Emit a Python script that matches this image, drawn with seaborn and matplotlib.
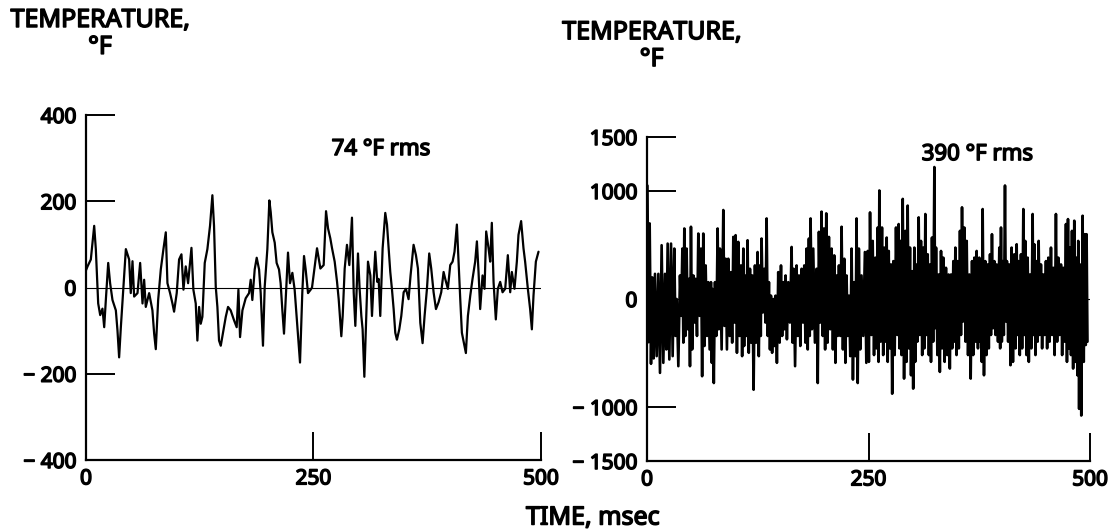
import numpy as np
import pandas as pd
import matplotlib
matplotlib.use("Agg")
import matplotlib.pyplot as plt
import matplotlib.patheffects as pe
import seaborn as sns

# left trace: 74 F rms (msec, deg F)
time_left = [0, 1.7, 5.3, 9.0, 10.8, 11.9, 13.4, 15.6, 18.1, 20.0,
             21.8, 24.4, 26.5, 29.1, 32.8, 34.6, 36.4, 38.3, 41.2, 43.8,
             47.4, 49.2, 51.1, 52.9, 56.6, 59.5, 62.1, 63.9, 65.7, 69.4,
             73.0, 74.9, 76.7, 79.3, 82.2, 85.1, 87.7, 89.5, 92.4, 95.0,
             96.8, 99.7, 102.3, 104.9, 107.1, 109.6, 112.2, 115.9, 118.0, 120.6,
             122.4, 124.3, 126.1, 127.9, 130.5, 133.4, 136.3, 138.9, 140.7, 142.6,
             144.4, 146.2, 148.1, 151.0, 153.6, 156.1, 159.0, 162.7, 165.6, 167.5,
             169.3, 171.9, 175.5, 179.2, 181.0, 182.8, 185.4, 187.6, 190.2, 192.0,
             194.5, 196.4, 199.3, 201.5, 203.0, 204.8, 207.4, 209.5, 212.1, 213.9,
             215.8, 217.6, 219.4, 222.0, 224.2, 226.8, 229.3, 231.5, 233.3, 235.2,
             237.7, 239.6, 241.4, 244.0, 246.9,
             248.4, 253.9, 257.6, 261.2, 263.8, 266.0, 268.5, 270.4, 273.3, 275.9,
             277.7, 280.6, 282.1, 284.3, 286.8, 289.4, 292.3, 294.2, 296.0, 298.9,
             300.7, 302.6, 304.0, 305.9, 307.7, 309.9, 312.5, 314.3, 316.1, 317.9,
             320.1, 321.6, 323.4, 326.0, 328.9, 330.8, 332.6, 334.4, 336.2, 338.1,
             339.9, 341.7, 344.3, 346.5, 349.1, 351.6, 354.5, 356.7, 360.0, 362.6,
             364.8, 367.4, 369.9, 372.1, 374.7, 377.2, 379.4, 382.0, 384.6, 387.5,
             390.4, 393.0, 394.8, 397.7, 400.3, 402.9, 405.0, 407.6, 409.4, 411.3,
             413.1, 415.3, 417.5, 419.7, 422.3, 424.8, 427.7, 429.6, 431.4, 433.2,
             435.8, 438.0, 439.8, 442.4, 444.2, 446.0, 447.9, 450.4, 452.6, 455.2,
             457.8, 460.7, 463.6, 466.2, 468.0, 470.9, 473.5, 475.3, 478.2, 480.8,
             482.6, 485.6, 488.1, 490.0, 491.8, 494.4, 497.3]
temp_left = [40, 49, 65, 143, 89, 34, -37, -64, -49, -92,
             -29, 57, 10, -29, -53, -100, -162, -92, 2, 89,
             65, -13, 61, -21, -13, 57, -37, 18, -45, -13,
             -53, -107, -143, -29, 42, 89, 128, 10, -13, -37,
             -56, -13, 65, 77, -5, 49, 10, 92, -5, -37,
             -123, -45, -84, -68, 57, 89, 143, 214, 143, 2,
             -45, -123, -135, -100, -68, -45, -53, -76, -92, -5,
             -115, -53, -25, -13, 18, -29, 42, 69, 42, -13,
             -135, 2, 89, 202, 175, 128, 104, 57, 42, 10,
             -53, -107, -29, 81, 10, 34, -5, -68, -123, -174,
             -13, 73, 42, -13, -5,
             0, 91, 44, 52, 177, 137, 114, 91, 60, 13,
             -27, -113, -66, 44, 99, 52, 162, -11, -89, 79,
             -3, -66, -97, -207, -89, 60, 28, -66, 13, 83,
             13, 20, -66, 91, 173, 146, 91, 36, -3, -50,
             -105, -121, -97, -66, -11, -3, -27, 28, 99, 75,
             44, -82, -129, -66, -3, 79, 44, -11, -50, -34,
             -11, 36, 20, -3, 52, 60, 83, 146, 60, -27,
             -105, -129, -152, -66, -19, 20, 60, 107, 36, -50,
             28, -3, 130, 91, 60, 150, 13, -74, -3, 13,
             -11, -3, 75, -11, 36, -3, 60, 122, 154, 91,
             60, -3, -50, -97, -19, 60, 83]

# right trace: 390 F rms, spike tops and bottoms
time_right = [0.5, 3.0, 6.0, 9.0, 12.8, 16.5, 20.3, 23.3, 27.1, 30.8,
              33.5, 37.2, 39.9, 42.1, 44.7, 47.4, 49.6, 52.3, 54.9, 57.9,
              60.9, 63.5, 66.2, 69.2, 72.2, 74.1, 76.7, 79.7, 82.3, 86.1,
              88.7, 91.7, 94.8, 97.4, 100.0, 103.0, 106.0, 108.7, 110.5, 113.5,
              116.2, 118.8, 121.8, 124.8, 127.5, 129.3, 132.3, 135.0, 137.6, 139.9,
              142.5, 145.1, 148.1, 151.2, 153.8, 156.4, 159.4, 163.2, 165.4, 168.8,
              171.5, 174.5, 177.5, 180.1, 182.7, 184.6, 187.6, 191.4, 194.0, 197.0,
              199.7, 202.3, 205.3, 208.3, 211.3, 214.0, 216.6, 219.6, 222.6, 225.2,
              227.9, 230.9, 233.9, 236.5, 239.1, 242.1, 245.9,
              249.1, 251.7, 254.7, 257.7, 260.4, 262.2, 265.2, 267.9, 270.5, 272.8,
              275.4, 278.0, 281.0, 284.0, 285.9, 288.6, 291.6, 294.2, 296.8, 299.1,
              301.7, 303.6, 306.6, 309.2, 311.9, 314.1, 316.8, 319.4, 321.6, 324.3,
              326.2, 329.2, 331.8, 334.4, 337.4, 340.4, 343.1, 345.7, 348.0, 350.6,
              353.2, 355.5, 358.1, 360.8, 363.8, 366.8, 369.4, 372.0, 375.0, 376.9,
              378.8, 381.8, 384.4, 387.1, 389.3, 392.0, 394.6, 397.6, 399.5, 401.4,
              404.0, 406.2, 408.9, 411.5, 414.5, 417.2, 419.4, 422.0, 424.7, 426.9,
              429.6, 432.2, 435.2, 437.1, 439.7, 442.0, 444.6, 447.2, 450.2, 452.9,
              455.9, 458.5, 461.5, 464.2, 467.2, 469.8, 472.8, 475.1, 477.4, 479.6,
              482.2, 484.8, 486.7, 488.6, 491.6, 494.2, 496.1]
peak_right = [1050, 700, 200, 233, 233, 498, 233, 513, 513, 467,
              0, 218, 467, 653, 467, 187, 669, 218, 187, 606,
              467, 606, 311, 156, 156, 93, 156, 653, 467, 824,
              373, 373, 249, 575, 591, 529, 311, 467, 218, 544,
              280, 218, 311, 435, 311, 560, 280, 746, 156, 31,
              0, 31, 249, 311, 156, 218, 156, 482, 280, 311,
              218, 280, 311, 467, 560, 746, 467, 280, 622, 809,
              653, 793, 575, 467, 404, 218, 311, 669, 373, 218,
              31, 467, 156, 746, 467, 218, 435,
              445, 802, 538, 383, 662, 1005, 662, 476, 569, 445,
              320, 351, 662, 694, 538, 927, 631, 865, 476, 258,
              476, 320, 756, 538, 476, 787, 414, 320, 569, 1222,
              476, 227, 445, 383, 289, 227, 227, 351, 476, 351,
              631, 849, 662, 538, 227, 351, 383, 445, 383, 289,
              833, 351, 320, 414, 600, 351, 320, 476, 662, 351,
              1051, 351, 320, 476, 414, 507, 351, 414, 833, 538,
              383, 227, 787, 507, 351, 538, 320, 227, 351, 383,
              476, 289, 787, 383, 320, 289, 694, 740, 476, 631,
              725, 383, 538, 320, 771, 600, 600]
trough_right = [-400, -600, -550, -529, -684, -591, -467, -560, -529, -342,
                -622, -156, -404, -342, -280, -622, -467, -218, -342, -156,
                -715, -435, -342, -467, -591, -778, -342, -280, -467, -249,
                -467, -342, -404, -218, -498, -342, -529, -435, -342, -498,
                -404, -840, -404, -529, -342, -124, -218, -342, -467, -498,
                -435, -591, -404, -342, -280, -373, -218, -404, -622, -342,
                -435, -218, -404, -467, -342, -280, -404, -778, -218, -342,
                -467, -404, -280, -467, -591, -342, -342, -467, -591, -342,
                -529, -746, -529, -778, -467, -342, -591,
                -582, -333, -519, -457, -582, -395, -519, -395, -582, -457,
                -877, -519, -333, -457, -519, -737, -582, -457, -706, -830,
                -582, -395, -333, -519, -457, -333, -519, -582, -395, -270,
                -519, -675, -457, -582, -519, -644, -457, -395, -519, -457,
                -333, -208, -395, -519, -737, -519, -395, -457, -395, -582,
                -706, -519, -457, -333, -270, -333, -395, -457, -395, -333,
                -208, -395, -613, -582, -457, -333, -519, -457, -333, -519,
                -582, -457, -333, -519, -395, -333, -457, -333, -457, -395,
                -333, -519, -395, -333, -519, -395, -582, -457, -519, -644,
                -582, -706, -1017, -1079, -582, -426, -395]

time_ticks = [0, 250, 500]
left_ticks = [-400, -200, 0, 200, 400]
right_ticks = [-1500, -1000, 0, 1000, 1500]

# condensed face has no bold cut here, so thicken the strokes instead
BOLD = [pe.withStroke(linewidth=1.1, foreground="black")]


def minus_label(v):
    return f"\u2212 {abs(v)}" if v < 0 else str(v)


def style_axes(ax, yticks):
    ax.set_xlim(0, 500)
    ax.set_ylim(yticks[0], yticks[-1])
    ax.set_xticks(time_ticks)
    ax.set_xticklabels([str(t) for t in time_ticks])
    ax.set_yticks(yticks)
    ax.set_yticklabels([minus_label(v) for v in yticks])
    for side in ["top", "right"]:
        ax.spines[side].set_visible(False)
    for side in ["left", "bottom"]:
        ax.spines[side].set_color("black")
        ax.spines[side].set_linewidth(1.6)
    # seaborn's white style switches tick marks off, turn them back on
    ax.tick_params(axis="y", left=True, direction="in", length=21, width=1.4,
                   colors="black", labelsize=15, pad=7)
    ax.tick_params(axis="x", bottom=True, direction="in", length=20, width=1.4,
                   colors="black", labelsize=15, pad=6)
    for lab in ax.get_xticklabels() + ax.get_yticklabels():
        lab.set_path_effects(BOLD)
    # no tick marks at the origin / zero line
    ax.xaxis.get_major_ticks()[0].tick1line.set_visible(False)
    ax.yaxis.get_major_ticks()[0].tick1line.set_visible(False)
    ax.yaxis.get_major_ticks()[2].tick1line.set_visible(False)
    ax.axhline(0, color="black", lw=0.8, zorder=1)
    ax.set_xlabel("")
    ax.set_ylabel("")
    ax.grid(False)


sns.set_theme(style="white")
plt.rcParams["font.family"] = ["Noto Sans", "DejaVu Sans"]
plt.rcParams["font.stretch"] = "condensed"
plt.rcParams["font.weight"] = "bold"
plt.rcParams["text.color"] = "black"

fig = plt.figure(figsize=(11.14, 5.31), dpi=100)
ax1 = fig.add_axes([0.0772, 0.1337, 0.4084, 0.6497])
ax2 = fig.add_axes([0.5808, 0.1318, 0.3977, 0.6102])

left_df = pd.DataFrame({"time": time_left, "temp": temp_left})
sns.lineplot(data=left_df, x="time", y="temp", ax=ax1, color="black",
             lw=1.6, estimator=None, sort=False)

# interleave each spike top with its bottom to draw the dense trace
t = np.array(time_right)
gap = np.append(np.diff(t), 2.0)
right_df = pd.DataFrame({
    "time": np.column_stack([t, t + gap / 2]).ravel(),
    "temp": np.column_stack([peak_right, trough_right]).ravel(),
})
sns.lineplot(data=right_df, x="time", y="temp", ax=ax2, color="black",
             lw=1.9, estimator=None, sort=False)

style_axes(ax1, left_ticks)
style_axes(ax2, right_ticks)

ax1.text(270, 320, "74 \u00b0F rms", fontsize=16, fontweight="bold",
         color="black", va="center", path_effects=BOLD)
ax2.text(310, 1337, "390 \u00b0F rms", fontsize=16, fontweight="bold",
         color="black", va="center", path_effects=BOLD)

fig.text(0.0898, 0.985, "TEMPERATURE,\n\u00b0F", ha="center", va="top",
         multialignment="center", fontsize=18, fontweight="bold",
         color="black", linespacing=1.1, path_effects=BOLD)
fig.text(0.585, 0.962, "TEMPERATURE,\n\u00b0F", ha="center", va="top",
         multialignment="center", fontsize=18, fontweight="bold",
         color="black", linespacing=1.1, path_effects=BOLD)
fig.text(0.532, 0.0245, "TIME, msec", ha="center", va="center",
         fontsize=18, fontweight="bold", color="black", path_effects=BOLD)

fig.savefig("out.png", dpi=100, facecolor="white")
